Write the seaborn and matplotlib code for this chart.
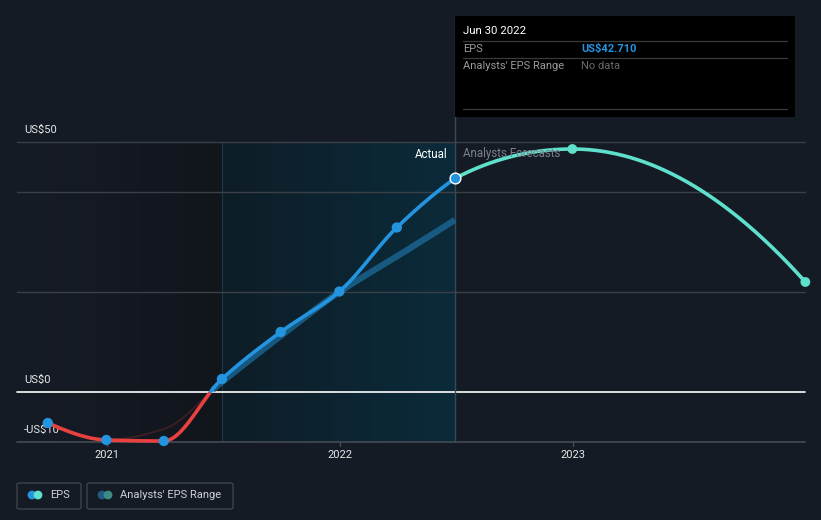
import numpy as np
import pandas as pd
import matplotlib
matplotlib.use("Agg")
import matplotlib.pyplot as plt
import seaborn as sns
from matplotlib.patches import FancyBboxPatch, Rectangle
from matplotlib.colors import LinearSegmentedColormap

# ---------------- data ----------------
eps_dates = ["2020-09-30", "2020-12-31", "2021-03-31", "2021-06-30",
             "2021-09-30", "2021-12-31", "2022-03-31", "2022-06-30"]
eps_values = [-6.2, -9.6, -9.8, 2.6, 12.0, 20.1, 32.9, 42.71]

fc_dates = ["2022-06-30", "2022-12-31", "2023-12-31"]
fc_values = [42.71, 48.6, 22.0]

range_dates = ["2020-12-31", "2021-03-31", "2021-06-30", "2021-09-30",
               "2021-12-31", "2022-03-31", "2022-06-30"]
range_values = [-9.6, -7.4, 2.0, 11.2, 20.0, 27.1, 34.4]

y_tick_values = [50, 0, -10]
y_tick_labels = ["US$50", "US$0", "-US$10"]
grid_values = [50, 40, 20]
x_tick_years = [2021, 2022, 2023]
x_tick_labels = ["2021", "2022", "2023"]

# ---------------- helpers ----------------
def frac_year(dates):
    d = pd.to_datetime(pd.Series(dates))
    start = pd.to_datetime(d.dt.year.astype(str) + "-01-01")
    end = pd.to_datetime((d.dt.year + 1).astype(str) + "-01-01")
    return (d.dt.year + (d - start) / (end - start)).to_numpy(dtype=float)


def smooth(x, y, n=300):
    """Monotone cubic (Fritsch-Carlson) curve for rendering a line through points."""
    x = np.asarray(x, float); y = np.asarray(y, float)
    h = np.diff(x); d = np.diff(y) / h
    m = np.zeros_like(y)
    m[1:-1] = np.where(d[:-1] * d[1:] > 0,
                       (3 * (h[:-1] + h[1:])) / ((2 * h[1:] + h[:-1]) / np.where(d[:-1] == 0, 1, d[:-1])
                                                  + (h[1:] + 2 * h[:-1]) / np.where(d[1:] == 0, 1, d[1:])), 0)
    m[0] = ((2 * h[0] + h[1]) * d[0] - h[0] * d[1]) / (h[0] + h[1]) if len(h) > 1 else d[0]
    if np.sign(m[0]) != np.sign(d[0]): m[0] = 0
    m[-1] = ((2 * h[-1] + h[-2]) * d[-1] - h[-1] * d[-2]) / (h[-1] + h[-2]) if len(h) > 1 else d[-1]
    if np.sign(m[-1]) != np.sign(d[-1]): m[-1] = 0
    xs = np.linspace(x[0], x[-1], n)
    idx = np.clip(np.searchsorted(x, xs) - 1, 0, len(h) - 1)
    t = (xs - x[idx]) / h[idx]
    h00 = 2 * t**3 - 3 * t**2 + 1; h10 = t**3 - 2 * t**2 + t
    h01 = -2 * t**3 + 3 * t**2; h11 = t**3 - t**2
    ys = h00 * y[idx] + h10 * h[idx] * m[idx] + h01 * y[idx + 1] + h11 * h[idx] * m[idx + 1]
    return xs, ys


ex = frac_year(eps_dates); fx = frac_year(fc_dates); rx = frac_year(range_dates)

# pixel mapping: 2021 -> x=107px, 1 year = 233px; y=0 -> 392px, 1 unit = 5px
W, H = 821, 520
def px2x(p): return 2021 + (p - 107) / 233
def px2y(p): return (392 - p) / 5

BG = "#151b25"
sns.set_theme(style="dark")
plt.rcParams["font.family"] = ["Roboto", "DejaVu Sans"]

fig = plt.figure(figsize=(W / 100, H / 100), dpi=100, facecolor=BG)
ax = fig.add_axes([0, 0, 1, 1])
ax.set_facecolor(BG)
ax.set_xlim(px2x(0), px2x(W))
ax.set_ylim(px2y(H), px2y(0))
ax.axis("off")

x_left, x_right = px2x(17), px2x(805)
x_div, x_now = rx[2], ex[-1]
y_top, y_bot = 50, -10

# background regions with gradients
grad = np.linspace(0, 1, 256).reshape(1, -1)
cm_left = LinearSegmentedColormap.from_list("l", ["#161c26", "#11151c"])
cm_mid = LinearSegmentedColormap.from_list("m", ["#0e1d27", "#0b2b3a"])
ax.imshow(grad, extent=[x_left, x_div, y_bot, y_top], aspect="auto", cmap=cm_left, zorder=0)
ax.imshow(grad, extent=[x_div, x_now, y_bot, y_top], aspect="auto", cmap=cm_mid, zorder=0)
ax.plot([x_div, x_div], [y_bot, y_top], color="#1c3a48", lw=0.8, zorder=1)

# grid lines
for g in grid_values:
    ax.plot([x_left, x_right], [g, g], color="#3a3f48", lw=1, zorder=1)
ax.plot([x_left, x_right], [-10, -10], color="#454a53", lw=1.2, zorder=1)
ax.plot([x_left, x_right], [0, 0], color="#ffffff", lw=1.2, zorder=2)

# x ticks
for yr, lab in zip(x_tick_years, x_tick_labels):
    ax.plot([yr, yr], [-10, px2y(446)], color="#454a53", lw=1, zorder=1)
    ax.text(yr, px2y(455), lab, color="#e8e8e8", fontsize=8, ha="center", va="center")
for v, lab in zip(y_tick_values, y_tick_labels):
    ax.text(px2x(24), v + 2.4, lab, color="#e8e8e8", fontsize=8, ha="left", va="center", zorder=3)

# analysts range line
rsx, rsy = smooth(rx, range_values)
neg = rsy <= 0.3
ax.plot(rsx[neg], rsy[neg], color="#7a2a2e", lw=1.4, alpha=0.4, zorder=3)
ax.plot(rsx[~neg], rsy[~neg], color="#1d6b9b", lw=4.5, alpha=0.75, solid_capstyle="butt", zorder=3)

# EPS line (smoothed), coloured by sign
sx, sy = smooth(ex, eps_values, n=600)
yneg = np.where(sy <= 0, sy, np.nan)
ypos = np.where(sy >= 0, sy, np.nan)
ax.plot(sx, yneg, color="#e8413f", lw=2.6, zorder=4, solid_capstyle="round")
ax.plot(sx, ypos, color="#2394df", lw=2.6, zorder=4, solid_capstyle="round")

df_eps = pd.DataFrame({"x": ex[:-1], "y": eps_values[:-1]})
sns.scatterplot(data=df_eps, x="x", y="y", color="#2394df", s=55, edgecolor="none", ax=ax, zorder=5)

# forecast
fsx, fsy = smooth(fx, fc_values)
ax.plot(fsx, fsy, color="#5ee0cc", lw=2.6, zorder=4)
df_fc = pd.DataFrame({"x": fx[1:], "y": fc_values[1:]})
sns.scatterplot(data=df_fc, x="x", y="y", color="#5ee0cc", s=50, edgecolor="none", ax=ax, zorder=5)
ax.scatter([ex[-1]], [eps_values[-1]], s=60, color="#2394df", edgecolor="#ffffff", linewidth=1.0, zorder=6)

# current marker vertical line
ax.plot([x_now, x_now], [y_bot, px2y(16)], color="#3a4a55", lw=1, zorder=2)

ax.text(px2x(447), px2y(154), "Actual", color="#ffffff", fontsize=8.3, ha="right", va="center", zorder=6)
ax.text(px2x(463), px2y(154), "Analysts Forecasts", color="#7d8087", fontsize=8.3, ha="left", va="center", zorder=6)

# tooltip
ax.add_patch(Rectangle((px2x(455), px2y(117)), px2x(795) - px2x(455), px2y(16) - px2y(117),
                       facecolor="#000000", edgecolor="none", zorder=7))
for yy in (41, 58, 109):
    ax.plot([px2x(463), px2x(787)], [px2y(yy), px2y(yy)], color="#3a3a3a", lw=0.9, zorder=8)
ax.text(px2x(463), px2y(31), "Jun 30 2022", color="#ffffff", fontsize=8.2, ha="left", va="center", zorder=8)
ax.text(px2x(463), px2y(49), "EPS", color="#9a9a9a", fontsize=8, ha="left", va="center", zorder=8)
ax.text(px2x(581), px2y(49), "US$42.710", color="#2394df", fontsize=8, fontweight="bold", ha="left", va="center", zorder=8)
ax.text(px2x(463), px2y(66), "Analysts' EPS Range", color="#9a9a9a", fontsize=8, ha="left", va="center", zorder=8)
ax.text(px2x(581), px2y(66), "No data", color="#6a6a6a", fontsize=8, ha="left", va="center", zorder=8)

# legend (drawn in figure pixel coordinates)
def fbox(x0, y0, w, h):
    return FancyBboxPatch((x0 / W, 1 - (y0 + h) / H), w / W, h / H,
                          boxstyle="round,pad=0,rounding_size=0.003",
                          transform=fig.transFigure, facecolor="none",
                          edgecolor="#3d424b", lw=1, zorder=9)
fig.patches.append(fbox(17, 483, 64, 26))
fig.patches.append(fbox(87, 483, 146, 26))
def dot(xp, yp, c):
    ax.scatter([px2x(xp)], [px2y(yp)], s=40, color=c, edgecolor="none", zorder=10, clip_on=False)
dot(32, 495, "#2394df"); dot(38, 495, "#5ee0cc")
dot(102, 495, "#1e5b85"); dot(108, 495, "#3e8a84")
ax.text(px2x(50), px2y(495), "EPS", color="#cfd0d3", fontsize=8, ha="left", va="center")
ax.text(px2x(120), px2y(495), "Analysts' EPS Range", color="#cfd0d3", fontsize=8, ha="left", va="center")

fig.savefig("out.png", dpi=100, facecolor=BG)
